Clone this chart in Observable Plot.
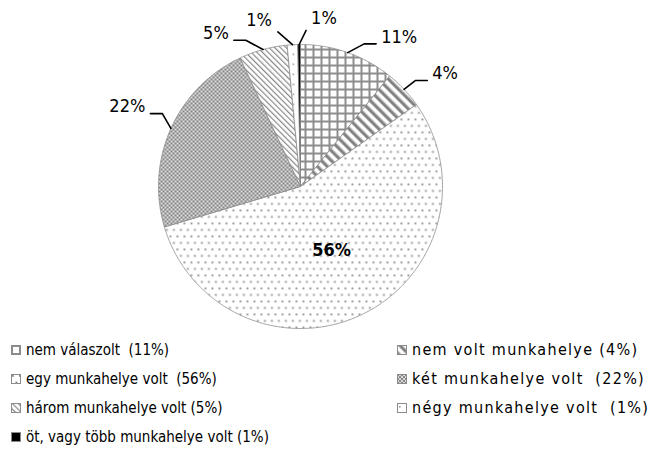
<!DOCTYPE html>
<html><head><meta charset="utf-8">
<script src="https://cdn.jsdelivr.net/npm/d3@7"></script>
<script src="https://cdn.jsdelivr.net/npm/@observablehq/plot@0.6"></script>
<style>
body{margin:0;background:#fff;font-family:"DejaVu Sans Condensed","DejaVu Sans",sans-serif;}
#wrap{position:relative;width:651px;height:452px;}
#legend{position:absolute;left:0;top:335px;width:651px;height:117px;}
.item{position:absolute;height:29px;display:flex;align-items:center;font-size:15px;white-space:pre;color:#000;}
.item.right{font-size:16px;letter-spacing:1.3px;}
.item svg{margin-right:5px;flex:none;}
</style></head><body>
<div id="wrap"><div id="chart"></div><div id="legend"></div></div>
<script>
// ---- data ----
const categories = ["nem válaszolt","nem volt munkahelye","egy munkahelye volt","két munkahelye volt","három munkahelye volt","négy munkahelye volt","öt, vagy több munkahelye volt"];
const shares = [10.8, 4.4, 55.2, 22.6, 5.5, 1.2, 0.3];
const pctLabels = ["11%","4%","56%","22%","5%","1%","1%"];
const legendLabels = ["nem válaszolt  (11%)","nem volt munkahelye (4%)","egy munkahelye volt  (56%)","két munkahelye volt  (22%)","három munkahelye volt (5%)","négy munkahelye volt  (1%)","öt, vagy több munkahelye volt (1%)"];
// label leader angle nudges (degrees), layout only
const labelNudge = [4.6, 0.5, 0, 3.7, -5.2, -5.1, 2.6];

const patternDefs = `
<pattern id="pat0" patternUnits="userSpaceOnUse" width="8" height="8">
  <rect width="8" height="8" fill="#fff"/>
  <rect x="0" y="0" width="8" height="2" fill="#8c8c8c"/>
  <rect x="0" y="0" width="2" height="8" fill="#8c8c8c"/>
</pattern>
<pattern id="pat1" patternUnits="userSpaceOnUse" width="7" height="7" patternTransform="rotate(-45)">
  <rect width="7" height="7" fill="#fff"/>
  <rect x="0" y="0" width="3.5" height="7" fill="#9a9a9a"/>
  <rect x="1" y="0" width="1.5" height="7" fill="#7a7a7a"/>
</pattern>
<pattern id="pat2" patternUnits="userSpaceOnUse" width="7" height="13">
  <rect width="7" height="13" fill="#fff"/>
  <rect x="1" y="1" width="1.8" height="1.8" fill="#8a8a8a"/>
  <rect x="4.5" y="7.5" width="1.8" height="1.8" fill="#8a8a8a"/>
</pattern>
<pattern id="pat3" patternUnits="userSpaceOnUse" width="4" height="4">
  <rect width="4" height="4" fill="#dcdcdc"/>
  <rect x="0" y="0" width="2" height="2" fill="#858585"/>
  <rect x="2" y="2" width="2" height="2" fill="#858585"/>
</pattern>
<pattern id="pat4" patternUnits="userSpaceOnUse" width="4" height="4" patternTransform="rotate(-45)">
  <rect width="4" height="4" fill="#fff"/>
  <rect x="0" y="0" width="1.2" height="4" fill="#888"/>
</pattern>
<pattern id="pat5" patternUnits="userSpaceOnUse" width="10" height="10">
  <rect width="10" height="10" fill="#fff"/>
  <rect x="2" y="3" width="1.6" height="1.6" fill="#999"/>
</pattern>
<pattern id="pat6" patternUnits="userSpaceOnUse" width="4" height="4">
  <rect width="4" height="4" fill="#000"/>
</pattern>`;

// ---- geometry from data ----
const arcs = d3.pie().sort(null).startAngle(0).endAngle(2 * Math.PI)(shares);
const pt = (a, r) => ({x: r * Math.sin(a), y: r * Math.cos(a)});
const slices = arcs.map((a, i) => {
  const n = Math.max(2, Math.ceil((a.endAngle - a.startAngle) / 0.01));
  const pts = [{x: 0, y: 0}];
  for (let k = 0; k <= n; k++) pts.push(pt(a.startAngle + (a.endAngle - a.startAngle) * k / n, 1));
  pts.push({x: 0, y: 0});
  return pts;
});
const R = 142;
const hseg = 12 / R;
const leaders = [], sideR = [], sideL = [], topR = [], topL = [], inside = [];
arcs.forEach((a, i) => {
  const mid = (a.startAngle + a.endAngle) / 2;
  if (shares[i] > 30) { const c = pt(mid, 0.5); inside.push({...c, t: pctLabels[i]}); return; }
  const e = pt(mid, 1);
  const ang = mid + labelNudge[i] * Math.PI / 180;
  const b = pt(ang, 1.1);
  const right = Math.sin(ang) >= 0;
  if (Math.abs(Math.sin(ang)) < 0.17) {
    leaders.push({...e, i}, {...b, i});
    (right ? topR : topL).push({...b, t: pctLabels[i]});
  } else {
    const end = {x: b.x + (right ? hseg : -hseg), y: b.y};
    leaders.push({...e, i}, {...b, i}, {...end, i});
    (right ? sideR : sideL).push({...end, t: pctLabels[i]});
  }
});

const font = `"DejaVu Sans Condensed","DejaVu Sans",sans-serif`;
const txt = (data, opts) => Plot.text(data, {x: "x", y: "y", text: "t", fontSize: 18, fontFamily: font, fill: "#000", ...opts});

const plot = Plot.plot({
  width: 651, height: 335, margin: 0,
  x: {domain: [-1, 1], range: [158, 442], axis: null},
  y: {domain: [-1, 1], range: [328, 44], axis: null},
  marks: [
    ...slices.map((pts, i) => Plot.line(pts, {x: "x", y: "y", curve: "linear", fill: `url(#pat${i})`, stroke: "#8c8c8c", strokeWidth: 0.8})),
    Plot.line(leaders, {x: "x", y: "y", z: "i", stroke: "#000", strokeWidth: 1.6, curve: "linear"}),
    txt(sideR, {textAnchor: "start", dx: 5, dy: -7}),
    txt(sideL, {textAnchor: "end", dx: -5, dy: -7}),
    txt(topR, {textAnchor: "start", dx: 5, dy: -12}),
    txt(topL, {textAnchor: "end", dx: -6, dy: -12}),
    txt(inside, {textAnchor: "middle", fontWeight: "bold"})
  ]
});
d3.select(plot).insert("defs", ":first-child").html(patternDefs);
document.getElementById("chart").appendChild(plot);

// ---- legend ----
const legend = document.getElementById("legend");
legendLabels.forEach((lab, i) => {
  const col = i % 2, row = Math.floor(i / 2);
  const div = document.createElement("div");
  div.className = "item" + (col ? " right" : "");
  div.style.left = (col ? 397 : 11) + "px";
  div.style.top = (row * 29) + "px";
  div.innerHTML = `<svg width="10" height="10"><rect x="0.5" y="0.5" width="9" height="9" fill="url(#pat${i})" stroke="#8c8c8c" stroke-width="1"/></svg><span>${lab}</span>`;
  legend.appendChild(div);
});
</script>
</body></html>
